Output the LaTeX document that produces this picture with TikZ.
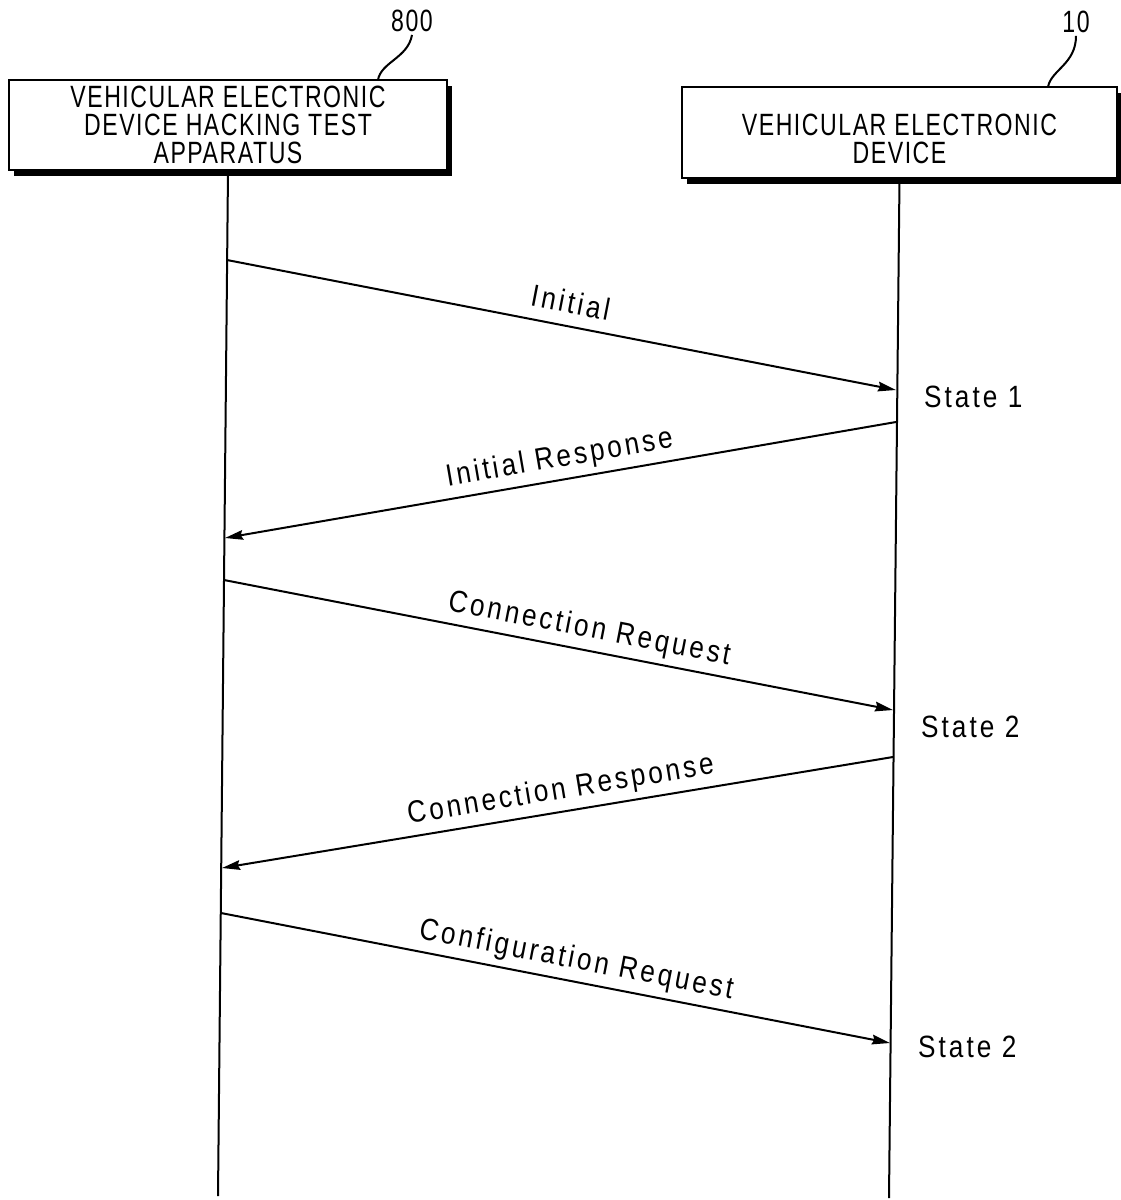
\documentclass[tikz,border=0pt]{standalone}
\usepackage{fontspec}
\setmainfont{Liberation Sans}
\newfontfamily\boxfont{Liberation Sans}[FakeStretch=0.75,LetterSpace=5]
\newfontfamily\labfont{Liberation Sans}[FakeStretch=0.85,LetterSpace=10]
\usetikzlibrary{arrows.meta,shadows}
\begin{document}
\begin{tikzpicture}[x=0.5pt,y=-0.5pt,line width=1pt,
  box/.style={draw,fill=white,line width=1pt,align=center,inner sep=0pt,
    font=\boxfont\fontsize{15.4}{14}\selectfont,
    drop shadow={shadow xshift=2.5pt,shadow yshift=-3pt,fill=black,opacity=1}},
  msg/.style={-{Stealth[length=9pt,width=4.8pt,inset=1pt]},line width=1pt},
  lab/.style={sloped,above=6pt,inner sep=0pt,text depth=0pt,
    font=\labfont\fontsize{15.4}{18}\selectfont},
  statelab/.style={anchor=base west,inner sep=0pt,font=\labfont\fontsize{15.4}{18}\selectfont},
  refnum/.style={inner sep=1pt,font=\boxfont\fontsize{15.4}{18}\selectfont},
  life/.style={line width=1pt}]
\fill[white] (0,0) rectangle (1120,1200);
\useasboundingbox (0,0) rectangle (1120,1200);

% boxes
\node[box,minimum width=219pt,minimum height=45pt] (A) at (228,125)
  {VEHICULAR ELECTRONIC\\DEVICE HACKING TEST\\APPARATUS};
\node[box,minimum width=217.5pt,minimum height=45.5pt] (B) at (899.5,132.5)
  {\rule{0pt}{17pt}VEHICULAR ELECTRONIC\\DEVICE};

% reference numerals
\node[refnum] (n800) at (412,21) {800};
\node[refnum] (n10) at (1076,22) {10};
\coordinate (l800) at (378,80);
\coordinate (l10) at (1048,87);
\draw (l800) .. controls (381,62) and (408,58) .. (n800.south);
\draw (l10) .. controls (1051,70) and (1076,64) .. (n10.south);

% lifelines
\coordinate (Abot) at (218,1196);
\coordinate (Bbot) at (889,1198);
\draw[life] (A.south) -- (Abot);
\draw[life] (B.south) -- (Bbot);

% message end points
\coordinate (a1s) at (227,260); \coordinate (a1e) at (896,390);
\coordinate (a2s) at (896,422); \coordinate (a2e) at (225,538);
\coordinate (a3s) at (224,580); \coordinate (a3e) at (893,710);
\coordinate (a4s) at (893,757); \coordinate (a4e) at (222,868);
\coordinate (a5s) at (221,913); \coordinate (a5e) at (890,1043);

\draw[msg] (a1s) -- node[lab,pos=0.507] (t1) {Initial} (a1e);
\draw[msg] (a2s) -- node[lab,pos=0.496] (t2) {Initial Response} (a2e);
\draw[msg] (a3s) -- node[lab,pos=0.54] (t3) {Connection Request} (a3e);
\draw[msg] (a4s) -- node[lab,pos=0.49] (t4) {Connection Response} (a4e);
\draw[msg] (a5s) -- node[lab,pos=0.525] (t5) {Configuration Request} (a5e);

% states
\node[statelab] (s1) at (923,407) {State 1};
\node[statelab] (s2) at (920,737) {State 2};
\node[statelab] (s3) at (917,1057) {State 2};
\end{tikzpicture}
\end{document}
